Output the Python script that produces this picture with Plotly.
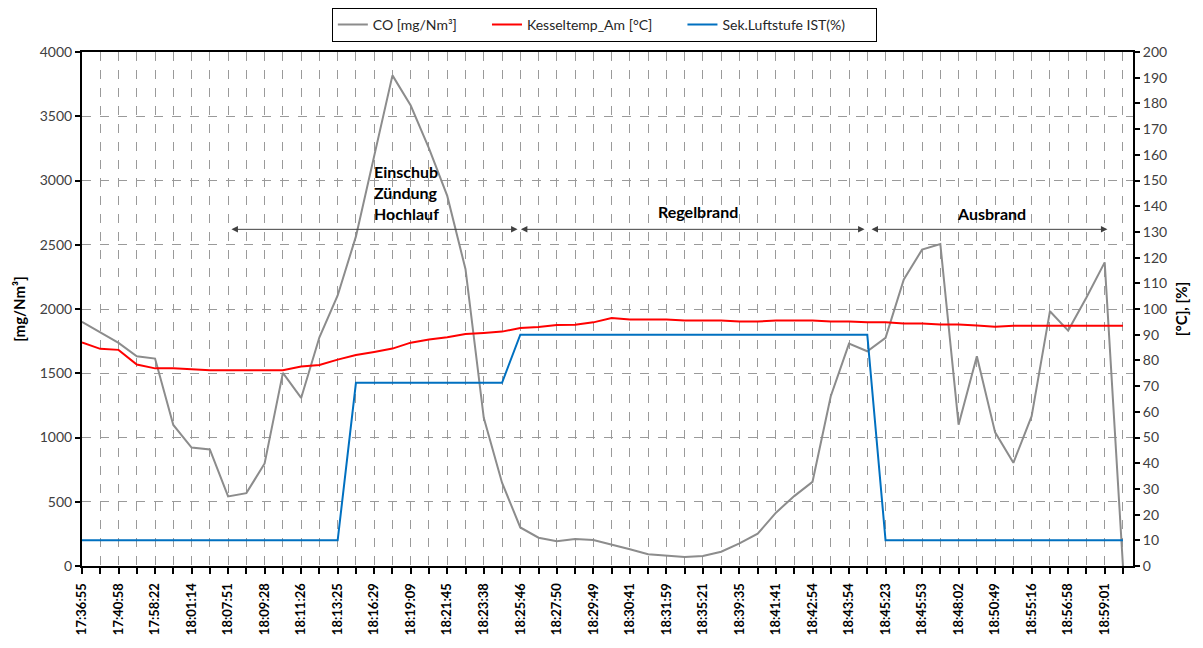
import plotly.graph_objects as go

# ---- data ----
tick_labels = ["17:36:55", "17:40:58", "17:58:22", "18:01:14", "18:07:51", "18:09:28",
               "18:11:26", "18:13:25", "18:16:29", "18:19:09", "18:21:45", "18:23:38",
               "18:25:46", "18:27:50", "18:29:49", "18:30:41", "18:31:59", "18:35:21",
               "18:39:35", "18:41:41", "18:42:54", "18:43:54", "18:45:23", "18:45:53",
               "18:48:02", "18:50:49", "18:55:16", "18:56:58", "18:59:01"]

co = [1900, 1820, 1736, 1632, 1614, 1098, 922, 907, 541, 567,
      798, 1503, 1308, 1780, 2105, 2565, 3200, 3818, 3583, 3250,
      2880, 2310, 1153, 648, 300, 220, 192, 210, 202, 168,
      130, 91, 83, 70, 78, 111, 176, 251, 415, 544,
      655, 1321, 1731, 1671, 1775, 2230, 2462, 2506, 1100, 1632,
      1040, 803, 1166, 1982, 1832, 2090, 2363, 0]

kessel = [87.0, 84.5, 84.1, 78.4, 76.9, 76.9, 76.6, 76.2, 76.2, 76.2,
          76.2, 76.2, 77.6, 78.2, 80.3, 82.1, 83.3, 84.6, 86.9, 88.1,
          89.0, 90.3, 90.7, 91.2, 92.6, 93.0, 93.8, 93.9, 94.8, 96.5,
          95.9, 95.9, 95.9, 95.5, 95.5, 95.5, 95.1, 95.1, 95.5, 95.5,
          95.5, 95.1, 95.1, 94.8, 94.8, 94.4, 94.4, 94.0, 94.0, 93.6,
          93.1, 93.5, 93.5, 93.5, 93.5, 93.5, 93.5, 93.5]

luft = [10] * 15 + [71.3] * 9 + [90] * 20 + [10] * 14

series_names = ["CO [mg/Nm³]", "Kesseltemp_Am [°C]", "Sek.Luftstufe IST(%)"]

phases = ["Einschub<br>Zündung<br>Hochlauf", "Regelbrand", "Ausbrand"]
phase_bounds = [(8.1, 23.85), (23.95, 42.85), (43.15, 56.15)]
phase_text_pos = [(15.9, 2910), (33.75, 2760), (49.8, 2740)]
arrow_level = 2620

n = len(co)
x = list(range(n))

FONT = "Lato"
PAD = "\u00a0" * 7

fig = go.Figure()
fig.add_trace(go.Scatter(x=x, y=co, name=series_names[0] + PAD, mode="lines",
                         line=dict(color="#8c8c8c", width=2)))
fig.add_trace(go.Scatter(x=x, y=kessel, name=series_names[1] + PAD, mode="lines",
                         line=dict(color="#ff0000", width=2), yaxis="y2"))
fig.add_trace(go.Scatter(x=x, y=luft, name=series_names[2] + PAD, mode="lines",
                         line=dict(color="#0070c0", width=2), yaxis="y2"))

annotations = []
for (x0, x1) in phase_bounds:
    annotations.append(dict(x=x1, y=arrow_level, ax=x0, ay=arrow_level,
                            xref="x", yref="y", axref="x", ayref="y",
                            text="", showarrow=True, arrowhead=2, arrowsize=1.3,
                            arrowwidth=1, arrowcolor="#404040",
                            arrowside="end+start"))
for i, (txt, (tx, ty)) in enumerate(zip(phases, phase_text_pos)):
    lines = "<br>".join("<b>" + t + "</b>" for t in txt.split("<br>"))
    if i == 0:
        annotations.append(dict(x=tx, y=ty, xref="x", yref="y", text=lines,
                                showarrow=False, xanchor="left", yanchor="middle", align="left",
                                font=dict(family=FONT, size=16, color="#000000")))
    else:
        annotations.append(dict(x=tx, y=ty, xref="x", yref="y", text=lines,
                                showarrow=False, xanchor="center", yanchor="middle",
                                font=dict(family=FONT, size=16, color="#000000")))

tick_idx = list(range(0, n, 2))[:len(tick_labels)]

fig.update_layout(
    width=1195, height=640,
    margin=dict(l=74, r=70, t=44, b=82, autoexpand=False),
    plot_bgcolor="white", paper_bgcolor="white",
    font=dict(family=FONT, size=14, color="#404040"),
    showlegend=True,
    legend=dict(orientation="h", x=0.497, xanchor="center", y=1.0, yanchor="top",
                yref="container", bordercolor="#000000", borderwidth=1,
                font=dict(family=FONT, size=14, color="#262626"),
                itemwidth=30, tracegroupgap=0),
    annotations=annotations,
    xaxis=dict(range=[0, 57.55], tickmode="array", tickvals=tick_idx, ticktext=tick_labels,
               tickangle=-90, tickfont=dict(family=FONT, size=13, color="#000000", weight="bold"),
               ticklabelstandoff=4,
               showline=True, linecolor="#000000", linewidth=2, mirror=True,
               ticks="outside", ticklen=6, tickcolor="#000000", tickwidth=1.5,
               showgrid=True, gridcolor="#9a9a9a", griddash="dash", gridwidth=1,
               minor=dict(dtick=1, tick0=0, ticks="outside", ticklen=6, tickcolor="#000000",
                          tickwidth=1.5, showgrid=True, gridcolor="#9a9a9a", griddash="dash",
                          gridwidth=1),
               zeroline=False),
    yaxis=dict(range=[0, 4000], dtick=500, showline=True, linecolor="#000000", linewidth=2,
               ticks="outside", ticklen=5, tickcolor="#000000", tickwidth=1.5,
               showgrid=True, gridcolor="#9a9a9a", griddash="dash", gridwidth=1,
               zeroline=False,
               title=dict(text="<b>[mg/Nm³]</b>", font=dict(family=FONT, size=15, color="#000000"),
                          standoff=10),
               tickfont=dict(family=FONT, size=14, color="#404040")),
    yaxis2=dict(range=[0, 200], dtick=10, overlaying="y", side="right",
                showline=True, linecolor="#000000", linewidth=2,
                ticks="outside", ticklen=5, tickcolor="#000000", tickwidth=1.5,
                showgrid=False, zeroline=False,
                title=dict(text="<b>[°C], [%]</b>", font=dict(family=FONT, size=15, color="#000000"),
                           standoff=10),
                tickfont=dict(family=FONT, size=14, color="#404040")),
)

fig.write_html("out.html")
